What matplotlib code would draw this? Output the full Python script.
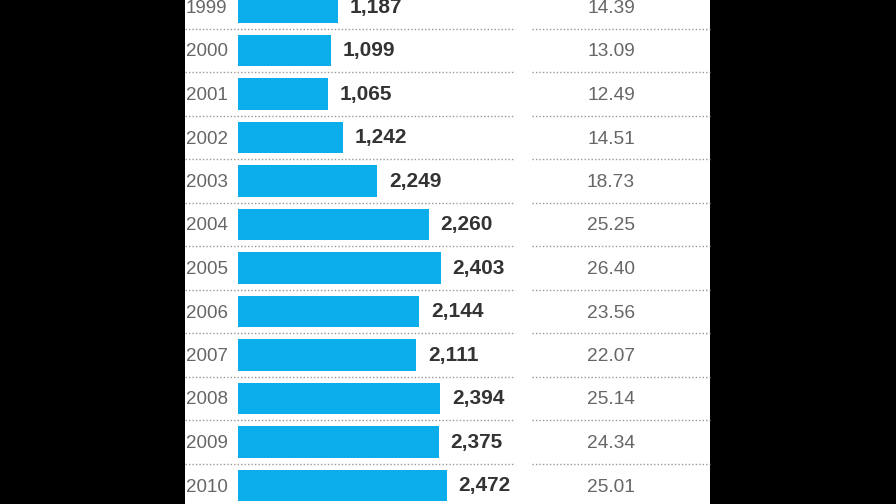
import matplotlib.pyplot as plt
from matplotlib.patches import Rectangle

years = ['1999', '2000', '2001', '2002', '2003', '2004', '2005', '2006', '2007', '2008', '2009', '2010']
# bar lengths as drawn in the picture (the 2003 bar is shorter than its label says)
bar_values = [1187, 1099, 1065, 1242, 1650, 2260, 2403, 2144, 2111, 2394, 2375, 2472]
bar_labels = ['1,187', '1,099', '1,065', '1,242', '2,249', '2,260', '2,403', '2,144', '2,111', '2,394', '2,375', '2,472']
right_values = ['14.39', '13.09', '12.49', '14.51', '18.73', '25.25', '26.40', '23.56', '22.07', '25.14', '24.34', '25.01']

plt.rcParams['font.family'] = ['Liberation Sans', 'DejaVu Sans']

fig = plt.figure(figsize=(8.96, 5.04), dpi=100, facecolor='black')

# background layer in pixel units
ax0 = fig.add_axes([0, 0, 1, 1])
ax0.set_xlim(0, 896)
ax0.set_ylim(504, 0)
ax0.axis('off')
ax0.add_patch(Rectangle((185, -5), 525, 515, facecolor='white', edgecolor='none'))

row0 = 7
step = 43.5
for i, y in enumerate(years):
    yc = row0 + step * i
    ax0.text(186, yc + 1.5, y, ha='left', va='center', fontsize=13.5, color='#666666')
    ax0.text(611, yc + 1.5, right_values[i], ha='center', va='center', fontsize=13.8, color='#666666')
    yl = yc + step / 2
    ax0.plot([185, 515], [yl, yl], color='#999999', lw=1, ls=(0, (1, 1.5)))
    ax0.plot([532, 710], [yl, yl], color='#999999', lw=1, ls=(0, (1, 1.5)))

# bars
ax = fig.add_axes([238 / 896, 0, 472 / 896, 1])
ax.patch.set_alpha(0)
ax.axis('off')
ax.set_xlim(0, 5590)
ax.set_ylim((504 - row0) / step, -row0 / step)
pos = list(range(len(years)))
ax.barh(pos, bar_values, height=0.73, color='#0BADEB')
for i, v in enumerate(bar_values):
    ax.annotate(bar_labels[i], xy=(v, i), xytext=(8.5, 0), textcoords='offset points',
                ha='left', va='center', fontsize=15, fontweight='bold', color='#333333')

fig.savefig('out.png', dpi=100, facecolor='black')
